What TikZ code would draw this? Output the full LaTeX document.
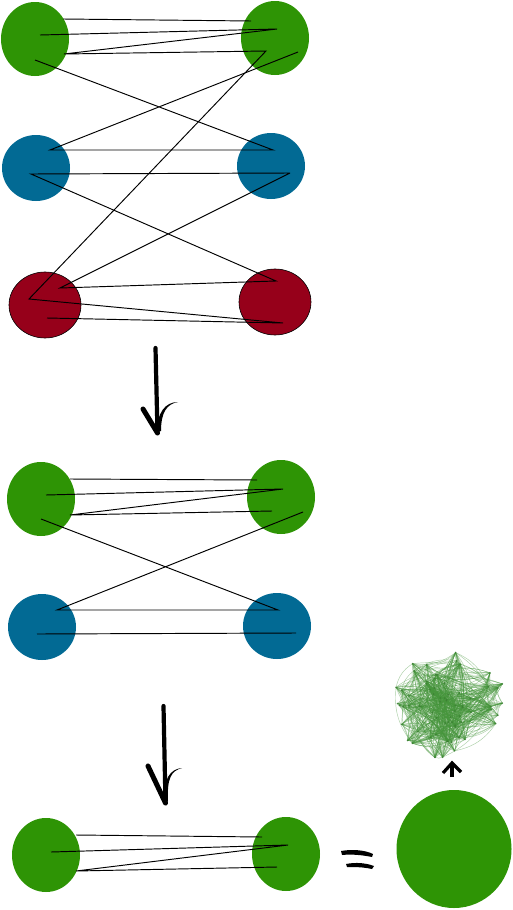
\documentclass[tikz,border=0pt]{standalone}
\usetikzlibrary{shapes.geometric}
\definecolor{gnode}{RGB}{46,148,5}
\definecolor{bnode}{RGB}{2,106,148}
\definecolor{rnode}{RGB}{150,0,26}
\definecolor{netc}{RGB}{70,150,60}
\tikzset{
  gn/.style={ellipse, fill=gnode, draw=none, inner sep=0pt, minimum width=68pt, minimum height=74pt},
  bn/.style={ellipse, fill=bnode, draw=none, inner sep=0pt, minimum width=68pt, minimum height=66pt},
  rn/.style={ellipse, fill=rnode, draw=black, line width=0.6pt, inner sep=0pt, minimum width=72pt, minimum height=66pt},
  edge/.style={draw=black, line width=0.95pt, line join=miter},
  brush/.style={draw=black, line width=4.2pt, line cap=round},
  netline/.style={draw=netc, line width=0.45pt, opacity=0.45},
}
\begin{document}
\begin{tikzpicture}[x=1pt,y=-1pt]
\useasboundingbox[fill=white] (0,0) rectangle (513,910);

% ---------- top section ----------
\node[gn] (g1) at (35,39) {};
\node[gn] (g2) at (275,38) {};
\node[bn] (b1) at (36,168) {};
\node[bn] (b2) at (271,166) {};
\node[rn] (r1) at (45,305) {};
\node[rn] (r2) at (275,302) {};

\coordinate (t1) at (63,19);  \coordinate (t2) at (251,21);
\coordinate (t3) at (40,35);  \coordinate (t4) at (277,29);
\coordinate (t5) at (64,54);  \coordinate (t6) at (266,51);
\coordinate (t7) at (29,299); \coordinate (t8) at (283,323);
\coordinate (t9) at (47,318);
\coordinate (u1) at (35,60);  \coordinate (u2) at (273,150);
\coordinate (u3) at (50,150); \coordinate (u4) at (298,52);
\coordinate (v1) at (31,174); \coordinate (v2) at (290,173);
\coordinate (v3) at (60,288); \coordinate (v4) at (276,281);

\draw[edge] (t1) -- (t2);
\draw[edge] (t3) -- (t4) -- (t5) -- (t6) -- (t7) -- (t8) -- (t9);
\draw[edge] (u1) -- (u2) -- (u3) -- (u4);
\draw[edge] (v2) -- (v1) -- (v4) -- (v3) -- (v2);

% ---------- first arrow ----------
\coordinate (a1s) at (155.5,348);
\coordinate (a1e) at (157.5,433);
\coordinate (a1l) at (143,409);
\draw[brush] (a1s) -- (a1e);
\draw[brush, line width=5pt] (a1l) -- (a1e);
\fill[black] (178,402) .. controls (167,404) and (161,412) .. (161,431)
  -- (157,432) .. controls (157,413) and (165,402) .. (178,402) -- cycle;

% ---------- middle section ----------
\node[gn] (mg1) at (41,499) {};
\node[gn] (mg2) at (281,497) {};
\node[bn] (mb1) at (42,627) {};
\node[bn] (mb2) at (277,626) {};

\coordinate (m1) at (70,479);  \coordinate (m2) at (257,480);
\coordinate (m3) at (46,495);  \coordinate (m4) at (283,489);
\coordinate (m5) at (70,515);  \coordinate (m6) at (272,511);
\coordinate (m7) at (41,519);  \coordinate (m8) at (278,610);
\coordinate (m9) at (57,610);  \coordinate (m10) at (303,512);
\coordinate (m11) at (37,634); \coordinate (m12) at (296,633);

\draw[edge] (m1) -- (m2);
\draw[edge] (m3) -- (m4) -- (m5) -- (m6);
\draw[edge] (m7) -- (m8) -- (m9) -- (m10);
\draw[edge] (m11) -- (m12);

% ---------- second arrow ----------
\coordinate (a2s) at (163.5,706);
\coordinate (a2e) at (165.5,803);
\coordinate (a2l) at (148,766);
\draw[brush] (a2s) -- (a2e);
\draw[brush, line width=5pt] (a2l) -- (a2e);
\fill[black] (182,768) .. controls (171,771) and (167,778) .. (168,801)
  -- (164,802) .. controls (163,779) and (170,769) .. (182,768) -- cycle;

% ---------- bottom section ----------
\node[gn] (bg1) at (46,855) {};
\node[gn] (bg2) at (286,854) {};

\coordinate (n1) at (76,835);  \coordinate (n2) at (262,837);
\coordinate (n3) at (51,852);  \coordinate (n4) at (288,845);
\coordinate (n5) at (76,871);  \coordinate (n6) at (277,867);

\draw[edge] (n1) -- (n2);
\draw[edge] (n3) -- (n4) -- (n5) -- (n6);

% equals-like brush strokes
\fill[black] (341,851) .. controls (352,849) and (365,850) .. (373,854)
  -- (372,857) .. controls (362,855) and (352,854) .. (342,855) -- cycle;
\fill[black] (346,864) .. controls (356,862) and (366,863) .. (374,866)
  -- (372,869) .. controls (363,867) and (355,867) .. (347,867) -- cycle;

% big green node
\node[ellipse, fill=gnode, inner sep=0pt, minimum width=115pt, minimum height=118pt] (big) at (454,849) {};

% small up arrow
\coordinate (ua1) at (452,777);
\coordinate (ua2) at (452,764);
\draw[black, line width=3.2pt] (ua1) -- (ua2);
\draw[black, line width=3.2pt, line join=miter] (443,773) -- (452,763) -- (461,772);

% network blob
\pgfmathsetseed{11}
\foreach \i in {1,...,70}{
  \pgfmathsetmacro\rr{60*(rnd)^0.7}
  \pgfmathsetmacro\tt{360*rnd}
  \coordinate (p\i) at ({446+\rr*cos(\tt)},{701+0.98*\rr*sin(\tt)});
}
\foreach \k in {1,...,750}{
  \pgfmathtruncatemacro\ea{random(1,70)}
  \pgfmathtruncatemacro\eb{random(1,70)}
  \draw[netline] (p\ea) to[bend left=22] (p\eb);
}
\foreach \i in {1,...,70}{
  \fill[netc!80!black, opacity=0.6] (p\i) circle (1pt);
}
\end{tikzpicture}
\end{document}
